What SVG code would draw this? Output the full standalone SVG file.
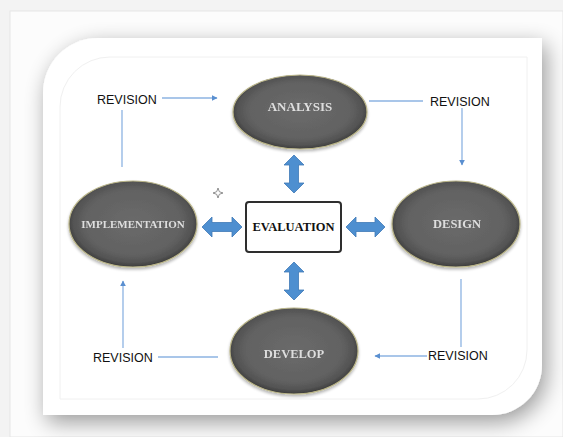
<svg xmlns="http://www.w3.org/2000/svg" width="563" height="437" viewBox="0 0 563 437">
<style>
.rev{font-family:"Liberation Sans",Arial,sans-serif;font-size:12.5px;fill:#111}
.nt{font-family:"Liberation Serif","Times New Roman",serif;font-weight:bold;fill:#dedede;text-anchor:middle}
.ev{font-family:"Liberation Serif","Times New Roman",serif;font-weight:bold;font-size:12.5px;fill:#111;text-anchor:middle}
.ell{fill:url(#eg);stroke:#b9b488;stroke-width:1.2}
.ln{stroke:#8db3e2;stroke-width:1.3;fill:none}
.dbl{fill:#4e8fd0;stroke:#3f79b6;stroke-width:0.8}
</style>
<defs>
<radialGradient id="eg" cx="50%" cy="48%" r="52%">
<stop offset="0" stop-color="#6a6a6a"/>
<stop offset="0.72" stop-color="#626262"/>
<stop offset="0.9" stop-color="#535353"/>
<stop offset="1" stop-color="#3c3c3c"/>
</radialGradient>
<filter id="sh" x="-20%" y="-20%" width="140%" height="140%">
<feGaussianBlur in="SourceAlpha" stdDeviation="11"/>
<feOffset dx="4" dy="7" result="b"/>
<feComponentTransfer><feFuncA type="linear" slope="0.4"/></feComponentTransfer>
<feMerge><feMergeNode/><feMergeNode in="SourceGraphic"/></feMerge>
</filter>
<filter id="esh" x="-10%" y="-10%" width="120%" height="125%">
<feGaussianBlur in="SourceAlpha" stdDeviation="1.5"/>
<feOffset dx="0" dy="1.5"/>
<feComponentTransfer><feFuncA type="linear" slope="0.3"/></feComponentTransfer>
<feMerge><feMergeNode/><feMergeNode in="SourceGraphic"/></feMerge>
</filter>
<marker id="ah" viewBox="0 0 10 10" refX="9" refY="5" markerWidth="6" markerHeight="6" markerUnits="userSpaceOnUse" orient="auto">
<path d="M0,0 L10,5 L0,10 z" fill="#5a8fd0"/>
</marker>
</defs>
<rect x="0" y="0" width="563" height="437" fill="#f3f3f3"/>
<rect x="10" y="11" width="553" height="426" fill="#fcfcfc" stroke="#e6e6e6" stroke-width="1"/>
<path d="M98,38 L542,38 L542,365 A50,50 0 0 1 492,415 L43,415 L43,93 A55,55 0 0 1 98,38 Z" fill="#fff" filter="url(#sh)"/>
<path d="M110,57 L527,57 L527,350 A49,49 0 0 1 478,399 L60,399 L60,107 A50,50 0 0 1 110,57 Z" fill="none" stroke="#f0f0f0" stroke-width="1"/>
<g id="connectors">
<line class="ln" x1="162" y1="98" x2="217" y2="98" marker-end="url(#ah)"/>
<line class="ln" x1="122" y1="167" x2="122" y2="110"/>
<line class="ln" x1="369" y1="101" x2="423" y2="101"/>
<line class="ln" x1="462" y1="108" x2="462" y2="165" marker-end="url(#ah)"/>
<line class="ln" x1="461" y1="279" x2="461" y2="347"/>
<line class="ln" x1="427" y1="356" x2="375" y2="356" marker-end="url(#ah)"/>
<line class="ln" x1="218" y1="357" x2="158" y2="357"/>
<line class="ln" x1="123" y1="348" x2="123" y2="281" marker-end="url(#ah)"/>
<polygon class="dbl" points="294,155 304,165 298.5,165 298.5,183 304,183 294,193 284,183 289.5,183 289.5,165 284,165"/>
<polygon class="dbl" points="294,262 304,272 298.5,272 298.5,290 304,290 294,300 284,290 289.5,290 289.5,272 284,272"/>
<polygon class="dbl" points="202,227 212,217 212,222.5 232,222.5 232,217 242,227 232,237 232,231.5 212,231.5 212,237"/>
<polygon class="dbl" points="346,227 356,217 356,222.5 375,222.5 375,217 385,227 375,237 375,231.5 356,231.5 356,237"/>
</g>
<g id="rev-tl"><text class="rev" x="97" y="104">REVISION</text></g>
<g id="rev-tr"><text class="rev" x="430" y="106">REVISION</text></g>
<g id="rev-bl"><text class="rev" x="93" y="362">REVISION</text></g>
<g id="rev-br"><text class="rev" x="428" y="360">REVISION</text></g>
<g id="analysis" filter="url(#esh)">
<ellipse class="ell" cx="300" cy="112" rx="67" ry="37"/>
<text class="nt" x="300" y="111" font-size="13">ANALYSIS</text>
</g>
<g id="implementation" filter="url(#esh)">
<ellipse class="ell" cx="133" cy="224" rx="64" ry="43"/>
<text class="nt" x="133" y="228" font-size="11">IMPLEMENTATION</text>
</g>
<g id="design" filter="url(#esh)">
<ellipse class="ell" cx="456" cy="224" rx="64" ry="43"/>
<text class="nt" x="457" y="228" font-size="12.5">DESIGN</text>
</g>
<g id="develop" filter="url(#esh)">
<ellipse class="ell" cx="294" cy="351" rx="64" ry="43"/>
<text class="nt" x="294" y="358" font-size="12.5">DEVELOP</text>
</g>
<g id="evaluation">
<rect x="246" y="202" width="95" height="50" rx="3" fill="#fff" stroke="#2e2e2e" stroke-width="2"/>
<text class="ev" x="293.5" y="231">EVALUATION</text>
</g>
<path d="M218,188 L219.3,191.7 L223,193 L219.3,194.3 L218,198 L216.7,194.3 L213,193 L216.7,191.7 Z" fill="#fff" stroke="#777" stroke-width="0.8"/>
</svg>
